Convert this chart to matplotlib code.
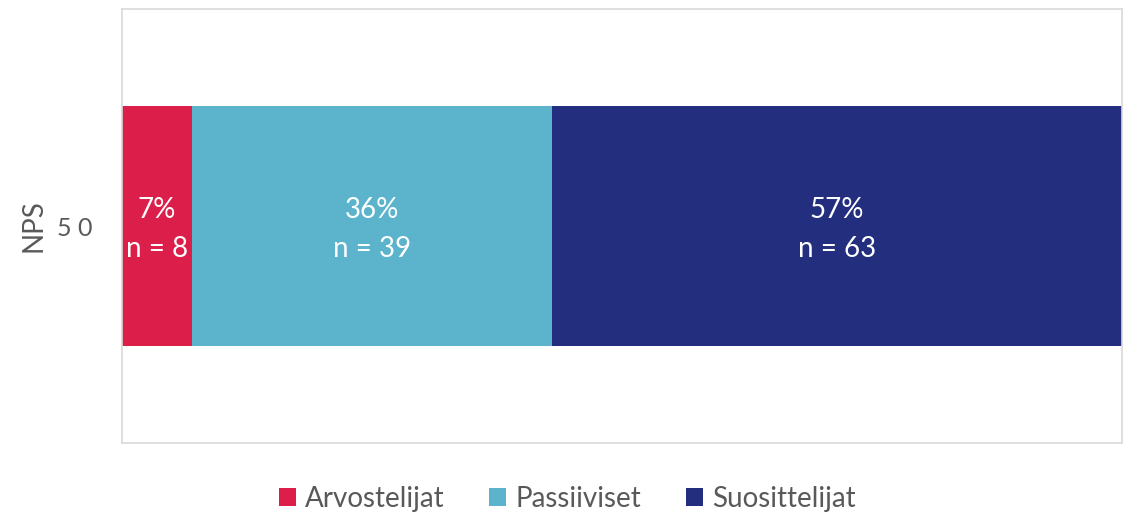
import matplotlib.pyplot as plt

plt.rcParams["font.family"] = ["Lato", "DejaVu Sans"]

category = ["50"]
groups = ["Arvostelijat", "Passiiviset", "Suosittelijat"]
shares = [7, 36, 57]
counts = [8, 39, 63]
colors = ["#DC1E4B", "#5BB3CC", "#232E7E"]

fig = plt.figure(figsize=(11.35, 5.17), dpi=100)
ax = fig.add_axes([0.1075, 0.1431, 0.881, 0.8395])

left = 0
for name, share, n, color in zip(groups, shares, counts, colors):
    ax.barh(category, share, left=left, height=0.555, color=color, label=name)
    ax.text(left + share / 2, -0.008, f"{share}%\nn = {n}", ha="center", va="center",
            color="white", fontsize=20, linespacing=1.6)
    left += share

ax.set_xlim(0, 100)
ax.set_ylim(-0.5, 0.5)
ax.set_xticks([])
ax.set_yticks([0])
ax.set_yticklabels(["5 0"])
ax.tick_params(axis="y", length=0, labelsize=18, labelcolor="#595959", pad=21)
ax.set_ylabel("NPS", fontsize=20, color="#595959", labelpad=8)
for s in ax.spines.values():
    s.set_color("#D9D9D9")
    s.set_linewidth(1.2)

handles, labels = ax.get_legend_handles_labels()
fig.legend(handles, labels, loc="center", bbox_to_anchor=(0.5, 0.035), ncol=3,
           frameon=False, fontsize=20, labelcolor="#595959", handlelength=0.6,
           handleheight=0.6, handletextpad=0.35, columnspacing=1.6)

plt.savefig("out.png", dpi=100)
